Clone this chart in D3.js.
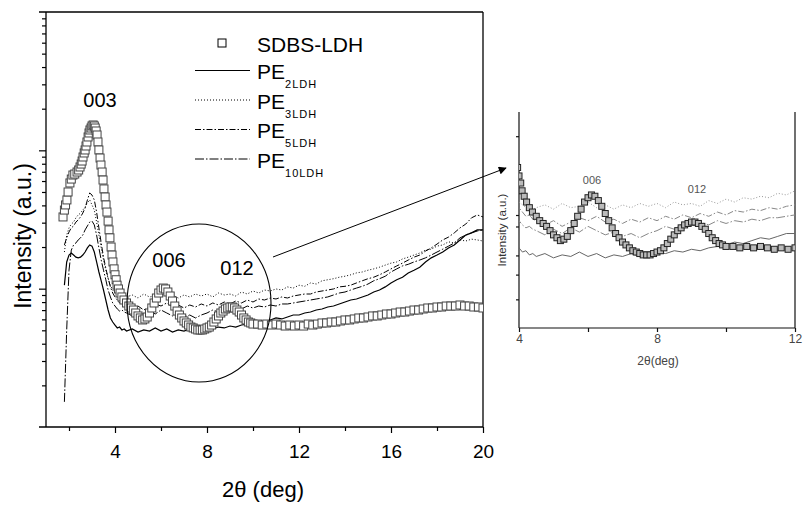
<!DOCTYPE html>
<html><head><meta charset="utf-8">
<script src="https://cdn.jsdelivr.net/npm/d3@7"></script>
<style>body{margin:0;background:#fff} svg{display:block} text{font-family:"Liberation Sans",Arial,sans-serif}</style>
</head><body><svg id="c" width="803" height="505"></svg>
<script>
// ---- data (2-theta in degrees, intensity in arbitrary units) ----
const lineTheta = [1.8,1.9,2.0,2.1,2.2,2.3,2.4,2.5,2.6,2.7,2.8,2.9,3.0,3.1,3.2,3.3,3.4,3.5,3.6,3.7,3.8,3.9,4.0,4.1,4.2,4.3,4.4,
 4.5,4.75,5,5.25,5.5,5.75,6,6.25,6.5,6.75,7,7.25,7.5,7.75,8,8.25,8.5,8.75,9,9.25,9.5,9.75,10,10.25,10.5,10.75,11,11.25,11.5,11.75,
 12,12.25,12.5,12.75,13,13.25,13.5,13.75,14,14.25,14.5,14.75,15,15.25,15.5,15.75,16,16.25,16.5,16.75,17,17.25,17.5,17.75,18,18.25,18.5,18.75,19,19.25,19.5,19.75,20];
const pe2 = [10.6,15.6,17.5,18.1,17.5,16.9,16.7,16.9,17.5,18.4,19.7,20.7,20.3,18.4,15.6,13.2,11.4,9.78,8.28,7.01,6.14,5.74,5.46,5.20,5.28,5.03,5.11,
 4.94,5.11,4.86,5.03,4.94,5.20,4.94,5.11,4.86,5.03,4.94,5.11,4.94,5.03,5.20,5.11,5.28,5.20,5.37,5.28,5.46,5.55,5.65,5.84,5.74,5.94,6.14,6.04,6.24,6.45,
 6.45,6.67,6.78,7.01,7.13,7.37,7.49,7.75,8.01,8.28,8.42,8.71,9.00,9.46,9.78,10.3,11.0,11.6,12.1,13.0,13.6,14.3,15.6,16.7,17.5,18.4,19.7,20.7,22.5,24.4,25.3,26.6,26.6];
const pe3 = [18.4,24.4,27.5,29.3,30.3,32.5,34.1,35.2,37.0,38.9,41.7,43.8,40.3,37.0,30.3,24.4,19.7,16.1,13.6,11.9,10.6,9.78,9.30,9.00,8.71,8.85,8.56,
 8.71,9.00,8.56,9.15,8.71,8.85,9.30,8.71,9.00,8.56,9.00,8.71,9.15,8.85,9.15,8.71,9.30,9.00,9.15,8.85,9.46,9.15,9.62,9.30,9.78,9.62,9.95,9.78,10.3,10.1,
 10.6,10.4,11.0,10.8,11.4,11.6,11.8,12.1,12.3,12.6,13.0,13.2,13.6,13.9,14.3,14.8,15.3,15.6,16.4,16.9,17.5,18.1,19.0,19.3,20.3,20.7,21.8,21.4,22.5,22.1,22.8,22.5,22.1];
const pe5 = [20.7,23.3,25.7,27.5,28.4,30.3,31.4,33.0,35.2,38.2,43.8,49.2,47.5,43.8,35.8,27.5,21.4,16.9,14.1,11.9,10.3,9.30,8.71,8.28,7.88,8.01,7.62,
 7.49,7.13,7.49,7.01,7.37,7.75,7.49,7.88,7.37,7.62,7.25,7.62,7.37,7.75,7.49,7.88,7.62,8.01,7.75,8.14,7.88,8.28,8.01,8.42,8.28,8.56,8.42,8.71,8.56,8.85,
 9.00,9.15,9.15,9.46,9.62,9.78,9.95,10.3,10.4,10.6,11.0,11.4,11.8,12.1,12.6,13.2,13.9,14.6,15.3,16.1,16.9,17.5,18.7,19.7,21.0,22.5,23.6,25.3,27.5,29.3,32.5,34.1,33.0];
const pe10 = [1.52,5.03,13.6,19.0,20.7,21.4,22.5,23.3,24.4,26.6,28.4,30.3,30.8,28.9,24.4,19.7,16.1,13.6,11.6,9.78,8.71,7.88,7.49,7.13,6.89,7.01,6.78,
 6.67,6.35,6.78,6.45,6.89,6.56,7.01,6.67,6.35,6.56,6.24,6.45,6.14,6.45,6.67,7.01,6.78,7.25,7.01,7.37,7.13,7.49,7.25,7.49,7.37,7.62,7.49,7.75,7.75,7.88,
 8.01,8.14,8.28,8.42,8.56,8.71,9.00,9.30,9.46,9.78,10.1,10.4,10.8,11.4,11.8,12.3,13.2,13.9,14.6,15.0,15.6,16.1,16.7,17.5,18.4,19.3,20.3,21.4,23.3,24.4,25.3,26.1,26.6];

const sqTheta = [1.74,1.80,1.85,1.91,1.96,2.04,2.10,2.17,2.25,2.35,2.42,2.48,2.53,2.57,2.61,2.66,2.70,2.74,2.78,2.83,2.87,2.91,2.96,3.00,3.05,
 3.10,3.14,3.18,3.22,3.26,3.30,3.35,3.39,3.44,3.48,3.52,3.57,3.61,3.65,3.70,3.74,3.78,3.83,3.87,3.91,3.96,4.00,4.05,4.09,4.15,4.22,4.30,4.39,
 4.5,4.6,4.7,4.8,4.9,5.0,5.1,5.2,5.3,5.4,5.5,5.6,5.7,5.8,5.9,6.0,6.1,6.2,6.3,6.4,6.5,6.6,6.7,6.8,6.9,7.0,7.1,7.2,7.3,7.4,7.5,7.6,7.7,7.8,7.9,
 8.0,8.1,8.2,8.3,8.4,8.5,8.6,8.7,8.8,8.9,9.0,9.1,9.2,9.3,9.4,9.5,9.6,9.7,9.8,9.9,10.0,
 10.2,10.4,10.6,10.8,11.0,11.2,11.4,11.6,11.8,12.0,12.2,12.4,12.6,12.8,13.0,13.2,13.4,13.6,13.8,14.0,14.2,14.4,14.6,14.8,15.0,
 15.2,15.4,15.6,15.8,16.0,16.2,16.4,16.6,16.8,17.0,17.2,17.4,17.6,17.8,18.0,18.2,18.4,18.6,18.8,19.0,19.2,19.4,19.6,19.8,20.0];
const sdbs = [33.0,37.0,40.3,43.8,50.0,58.1,62.0,66.3,67.4,69.7,72.1,75.8,79.6,83.7,89.5,95.7,100.6,107.5,114.9,124.9,133.5,140.3,145,150,152.5,
 150,145,138,129.1,114.9,100.6,88.0,78.3,69.7,61.0,52.6,46.0,40.3,35.8,30.8,26.6,23.3,20.0,17.5,15.6,13.9,12.6,11.6,10.6,9.95,9.30,8.71,8.28,
 7.88,7.49,7.25,7.01,6.67,6.35,6.14,5.94,6.04,6.24,6.67,7.25,7.88,8.56,9.30,9.78,10.1,9.95,9.46,8.85,8.14,7.49,6.89,6.45,6.14,5.84,5.65,5.46,5.28,5.20,5.11,5.03,5.03,5.03,5.11,
 5.20,5.28,5.46,5.74,6.04,6.35,6.67,6.89,7.13,7.25,7.37,7.37,7.25,7.01,6.78,6.45,6.14,5.94,5.74,5.65,5.55,
 5.55,5.46,5.55,5.46,5.55,5.46,5.37,5.46,5.37,5.46,5.37,5.55,5.46,5.55,5.65,5.65,5.74,5.74,5.84,5.94,5.94,6.04,6.14,6.14,6.24,
 6.35,6.35,6.45,6.56,6.56,6.67,6.78,6.78,6.89,7.01,7.01,7.13,7.25,7.25,7.37,7.37,7.49,7.49,7.49,7.62,7.49,7.49,7.37,7.37,7.25];

const xTicksMain = [4,8,12,16,20];
const xMinorMain = [2,6,10,14,18];
const xTicksInset = [4,8,12];
const xMinorInset = [6,10];

const seriesNames = ["SDBS-LDH","PE","PE","PE","PE"];
const seriesSubs = ["","2LDH","3LDH","5LDH","10LDH"];

// ---- drawing ----
const svg = d3.select("#c");
const x = d3.scaleLinear().domain([1,20]).range([46,483]);
const y = d3.scaleLog().domain([1,1000]).range([427,12]);
const xi = d3.scaleLinear().domain([4,12]).range([519,795]);
const yi = d3.scaleLog().domain([2.15,26.5]).range([328,112]);

const defs = svg.append("defs");
defs.append("clipPath").attr("id","mc").append("rect").attr("x",46).attr("y",12).attr("width",437).attr("height",415);
defs.append("clipPath").attr("id","ic").append("rect").attr("x",519).attr("y",112).attr("width",276).attr("height",216);
defs.append("marker").attr("id","arr").attr("viewBox","0 0 10 10").attr("refX",9).attr("refY",5)
  .attr("markerWidth",10).attr("markerHeight",8).attr("markerUnits","userSpaceOnUse").attr("orient","auto")
  .append("path").attr("d","M0,0L10,5L0,10Z").attr("fill","#000");

const styles = [
  {dash:null, w:1.2},
  {dash:"1,2", w:1},
  {dash:"6,2,1.5,2", w:1},
  {dash:"9,2,1.5,2", w:1}
];
const lineSeries = [pe2,pe3,pe5,pe10];

// main frame
const fr = svg.append("g").attr("stroke","#000").attr("stroke-width",1.3);
fr.append("line").attr("x1",39).attr("x2",483).attr("y1",12).attr("y2",12);
fr.append("line").attr("x1",39).attr("x2",483).attr("y1",427).attr("y2",427);
fr.append("line").attr("x1",46).attr("x2",46).attr("y1",12).attr("y2",427);
fr.append("line").attr("x1",483).attr("x2",483).attr("y1",12).attr("y2",427);

// axes
const gxa = svg.append("g").attr("transform","translate(0,427)")
  .call(d3.axisBottom(x).tickValues(xTicksMain).tickSize(6).tickPadding(12).tickFormat(d3.format("d")));
const gxm = svg.append("g").attr("transform","translate(0,427)")
  .call(d3.axisBottom(x).tickValues(xMinorMain).tickSize(4).tickFormat(""));
const yMinor = [2,3,4,5,6,7,8,9,20,30,40,50,60,70,80,90,200,300,400,500,600,700,800,900];
const gya = svg.append("g").attr("transform","translate(46,0)")
  .call(d3.axisLeft(y).tickValues([10,100]).tickSize(7).tickFormat(""));
const gym = svg.append("g").attr("transform","translate(46,0)")
  .call(d3.axisLeft(y).tickValues(yMinor).tickSize(4).tickFormat(""));
[gxa,gxm,gya,gym].forEach(g=>{g.select(".domain").remove(); g.selectAll("line").attr("stroke","#000").attr("stroke-width",1.2);});
gxa.selectAll("text").attr("font-size",19).attr("fill","#000").attr("font-family","Liberation Sans, Arial, sans-serif");

svg.append("text").attr("transform","translate(31,236) rotate(-90)").attr("text-anchor","middle")
  .attr("font-size",23).text("Intensity (a.u.)");
svg.append("text").attr("x",263).attr("y",497).attr("text-anchor","middle").attr("font-size",22).text("2θ (deg)");

// main plot data
const pm = svg.append("g").attr("clip-path","url(#mc)");
const lineGen = d3.line().x(d=>x(d[0])).y(d=>y(d[1]));
lineSeries.forEach((s,i)=>{
  const pts = lineTheta.slice(0, s.length).map((t,k)=>[t,s[k]]);
  pm.append("path").attr("d",lineGen(pts)).attr("fill","none").attr("stroke","#000")
    .attr("stroke-width",styles[i].w).attr("stroke-dasharray",styles[i].dash);
});
const sqPts = sqTheta.slice(0, sdbs.length).map((t,k)=>[t,sdbs[k]]);
pm.selectAll("rect.sq").data(sqPts).join("rect").attr("class","sq")
  .attr("x",d=>x(d[0])-4).attr("y",d=>y(d[1])-4).attr("width",8).attr("height",8)
  .attr("fill","#fff").attr("stroke","#444").attr("stroke-width",1);

// peak labels
svg.append("text").attr("x",100).attr("y",107).attr("text-anchor","middle").attr("font-size",20).text("003");
svg.append("text").attr("x",169).attr("y",267).attr("text-anchor","middle").attr("font-size",20).text("006");
svg.append("text").attr("x",237).attr("y",275).attr("text-anchor","middle").attr("font-size",20).text("012");

// circle and arrow
svg.append("ellipse").attr("cx",199).attr("cy",303).attr("rx",72).attr("ry",79)
  .attr("fill","none").attr("stroke","#000").attr("stroke-width",1.1);
svg.append("line").attr("x1",273).attr("y1",257).attr("x2",506).attr("y2",168)
  .attr("stroke","#000").attr("stroke-width",1).attr("marker-end","url(#arr)");

// legend
const lg = svg.append("g");
lg.append("rect").attr("x",218).attr("y",39).attr("width",8).attr("height",8).attr("fill","#fff").attr("stroke","#000").attr("stroke-width",1);
lg.append("text").attr("x",257).attr("y",52).attr("font-size",21).text(seriesNames[0]);
[79,108.5,138,167.5].forEach((b,i)=>{
  lg.append("line").attr("x1",195).attr("x2",250).attr("y1",b-8.5).attr("y2",b-8.5)
    .attr("stroke","#000").attr("stroke-width",styles[i].w).attr("stroke-dasharray",styles[i].dash);
  const t = lg.append("text").attr("x",257).attr("y",b).attr("font-size",21).text(seriesNames[i+1]);
  t.append("tspan").attr("dy",9).attr("font-size",11).attr("letter-spacing",1).text(seriesSubs[i+1]);
});

// ---- inset ----
const ig = svg.append("g");
const ifr = ig.append("g").attr("stroke","#111").attr("stroke-width",1.2);
ifr.append("line").attr("x1",519).attr("x2",519).attr("y1",112).attr("y2",328);
ifr.append("line").attr("x1",795).attr("x2",795).attr("y1",112).attr("y2",328);
ifr.append("line").attr("x1",519).attr("x2",795).attr("y1",328).attr("y2",328);
const ixa = ig.append("g").attr("transform","translate(0,328)")
  .call(d3.axisBottom(xi).tickValues(xTicksInset).tickSize(4).tickPadding(2).tickFormat(d3.format("d")));
const ixm = ig.append("g").attr("transform","translate(0,328)")
  .call(d3.axisBottom(xi).tickValues(xMinorInset).tickSize(4).tickFormat(""));
const iya = ig.append("g").attr("transform","translate(519,0)")
  .call(d3.axisLeft(yi).tickValues([3,4,5,7,8,20]).tickSize(3).tickFormat(""));
[ixa,ixm,iya].forEach(g=>{g.select(".domain").remove(); g.selectAll("line").attr("stroke","#111").attr("stroke-width",1.2);});
ixa.selectAll("text").attr("font-size",12).attr("fill","#444").attr("font-family","Liberation Sans, Arial, sans-serif");
ig.append("text").attr("x",658).attr("y",365).attr("text-anchor","middle").attr("font-size",12).attr("fill","#444").text("2θ(deg)");
ig.append("text").attr("transform","translate(506,230) rotate(-90)").attr("text-anchor","middle")
  .attr("font-size",11.5).attr("fill","#333").text("Intensity (a.u.)");
ig.append("text").attr("x",592).attr("y",184).attr("text-anchor","middle").attr("font-size",11).attr("fill","#555").text("006");
ig.append("text").attr("x",697).attr("y",193).attr("text-anchor","middle").attr("font-size",11).attr("fill","#555").text("012");

const ip = ig.append("g").attr("clip-path","url(#ic)");
const lineGenI = d3.line().x(d=>xi(d[0])).y(d=>yi(d[1]));
const iColors = ["#666","#999","#888","#888"];
lineSeries.forEach((s,i)=>{
  const pts = lineTheta.slice(0, s.length).map((t,k)=>[t,s[k]]).filter(d=>d[0]>=3.9&&d[0]<=12.1);
  ip.append("path").attr("d",lineGenI(pts)).attr("fill","none").attr("stroke",iColors[i])
    .attr("stroke-width",1).attr("stroke-dasharray",styles[i].dash);
});
ip.selectAll("rect.isq").data(sqPts.filter(d=>d[0]>=3.95&&d[0]<=12.05)).join("rect").attr("class","isq")
  .attr("x",d=>xi(d[0])-3).attr("y",d=>yi(d[1])-3).attr("width",6).attr("height",6)
  .attr("fill","#bbb").attr("stroke","#222").attr("stroke-width",1);
</script></body></html>
